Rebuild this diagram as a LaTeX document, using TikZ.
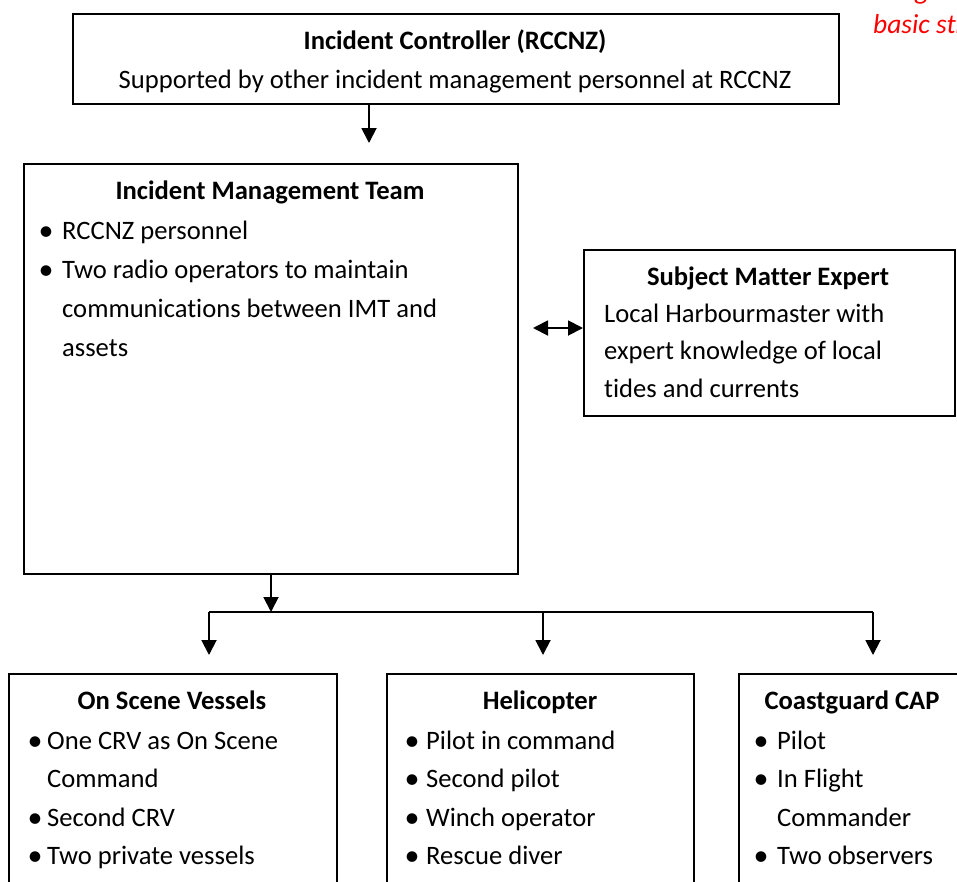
\documentclass[tikz,border=0pt]{standalone}
\usepackage{fontspec}
\setmainfont{Carlito}[Ligatures={NoCommon}]
\usetikzlibrary{arrows.meta}
\begin{document}
\begin{tikzpicture}[x=1pt,y=-1pt,
  font=\fontsize{26.6}{32}\selectfont,
  box/.style={draw, line width=1.9pt, inner sep=0pt, anchor=north west},
  conn/.style={line width=1.9pt},
  arr/.style={line width=1.9pt, -{Triangle[length=15pt,width=15pt]}},
  darr/.style={line width=1.9pt, {Triangle[length=15pt,width=15pt]}-{Triangle[length=15pt,width=15pt]}},
  ttl/.style={anchor=base, inner sep=0pt, font=\fontsize{26.6}{32}\selectfont\bfseries},
  txt/.style={anchor=base west, inner sep=0pt},
  ctxt/.style={anchor=base, inner sep=0pt},
  bul/.style={anchor=base, inner sep=0pt, font=\fontsize{30}{32}\selectfont},
  redtxt/.style={anchor=base west, inner sep=0pt, text=red, font=\fontsize{27.5}{32}\selectfont\itshape}]
\useasboundingbox (0,0) rectangle (957,881);
\clip (0,0) rectangle (957,881);

% boxes
\node[box, minimum width=766pt, minimum height=90pt] (ic) at (72,13) {};
\node[box, minimum width=494pt, minimum height=410pt] (imt) at (23,163) {};
\node[box, minimum width=371pt, minimum height=166pt] (sme) at (583,249) {};
\node[box, minimum width=328pt, minimum height=240pt] (osv) at (8,673) {};
\node[box, minimum width=307pt, minimum height=240pt] (heli) at (386,673) {};
\node[box, minimum width=240pt, minimum height=240pt] (cap) at (738,673) {};

% red caption (cut off at the page edge)
\node[redtxt] (cap1) at (915,-1) {g};
\node[redtxt] (cap2) at (873,33) {basic structure};

% Incident Controller
\node[ttl] (ict) at (455,49) {Incident Controller (RCCNZ)};
\node[ctxt] (ics) at (455,88) {Supported by other incident management personnel at RCCNZ};

% IMT
\node[ttl] (imtt) at (270,199) {Incident Management Team};
\node[bul] (ib1) at (46,240) {•};
\node[txt] (it1) at (62,239) {RCCNZ personnel};
\node[bul] (ib2) at (46,279) {•};
\node[txt] (it2) at (62,278) {Two radio operators to maintain};
\node[txt] (it3) at (62,317) {communications between IMT and};
\node[txt] (it4) at (62,356) {assets};

% SME
\node[ttl] (smet) at (768,285) {Subject Matter Expert};
\node[txt] (st1) at (604,322) {Local Harbourmaster with};
\node[txt] (st2) at (604,359) {expert knowledge of local};
\node[txt] (st3) at (604,397) {tides and currents};

% On Scene Vessels
\node[ttl] (osvt) at (172,709) {On Scene Vessels};
\node[bul] (ob1) at (35,750) {•};
\node[txt] (ot1) at (47,749) {One CRV as On Scene};
\node[txt] (ot2) at (47,787) {Command};
\node[bul] (ob2) at (35,827) {•};
\node[txt] (ot3) at (47,826) {Second CRV};
\node[bul] (ob3) at (35,865) {•};
\node[txt] (ot4) at (47,864) {Two private vessels};

% Helicopter
\node[ttl] (helit) at (540,709) {Helicopter};
\node[bul] (hb1) at (412,750) {•};
\node[txt] (ht1) at (426,749) {Pilot in command};
\node[bul] (hb2) at (412,788) {•};
\node[txt] (ht2) at (426,787) {Second pilot};
\node[bul] (hb3) at (412,827) {•};
\node[txt] (ht3) at (426,826) {Winch operator};
\node[bul] (hb4) at (412,865) {•};
\node[txt] (ht4) at (426,864) {Rescue diver};

% Coastguard CAP
\node[ttl] (capt) at (852,709) {Coastguard CAP};
\node[bul] (cb1) at (761,750) {•};
\node[txt] (ct1) at (777,749) {Pilot};
\node[bul] (cb2) at (761,788) {•};
\node[txt] (ct2) at (777,787) {In Flight};
\node[txt] (ct3) at (777,826) {Commander};
\node[bul] (cb3) at (761,865) {•};
\node[txt] (ct4) at (777,864) {Two observers};

% connectors
\coordinate (t1) at (369,143);
\draw[arr] (ic.south -| t1) -- (t1);

\coordinate (d1) at (533,328);
\draw[darr] (d1) -- (d1 -| sme.west);

\coordinate (j) at (271,612);
\coordinate (jl) at (209,612);
\coordinate (jm) at (543,612);
\coordinate (jr) at (873,612);
\coordinate (el) at (209,655);
\coordinate (em) at (543,655);
\coordinate (er) at (873,655);
\draw[arr] (imt.south -| j) -- (j);
\draw[conn] (jl) -- (jr);
\draw[arr] (jl) -- (el);
\draw[arr] (jm) -- (em);
\draw[arr] (jr) -- (er);
\end{tikzpicture}
\end{document}
